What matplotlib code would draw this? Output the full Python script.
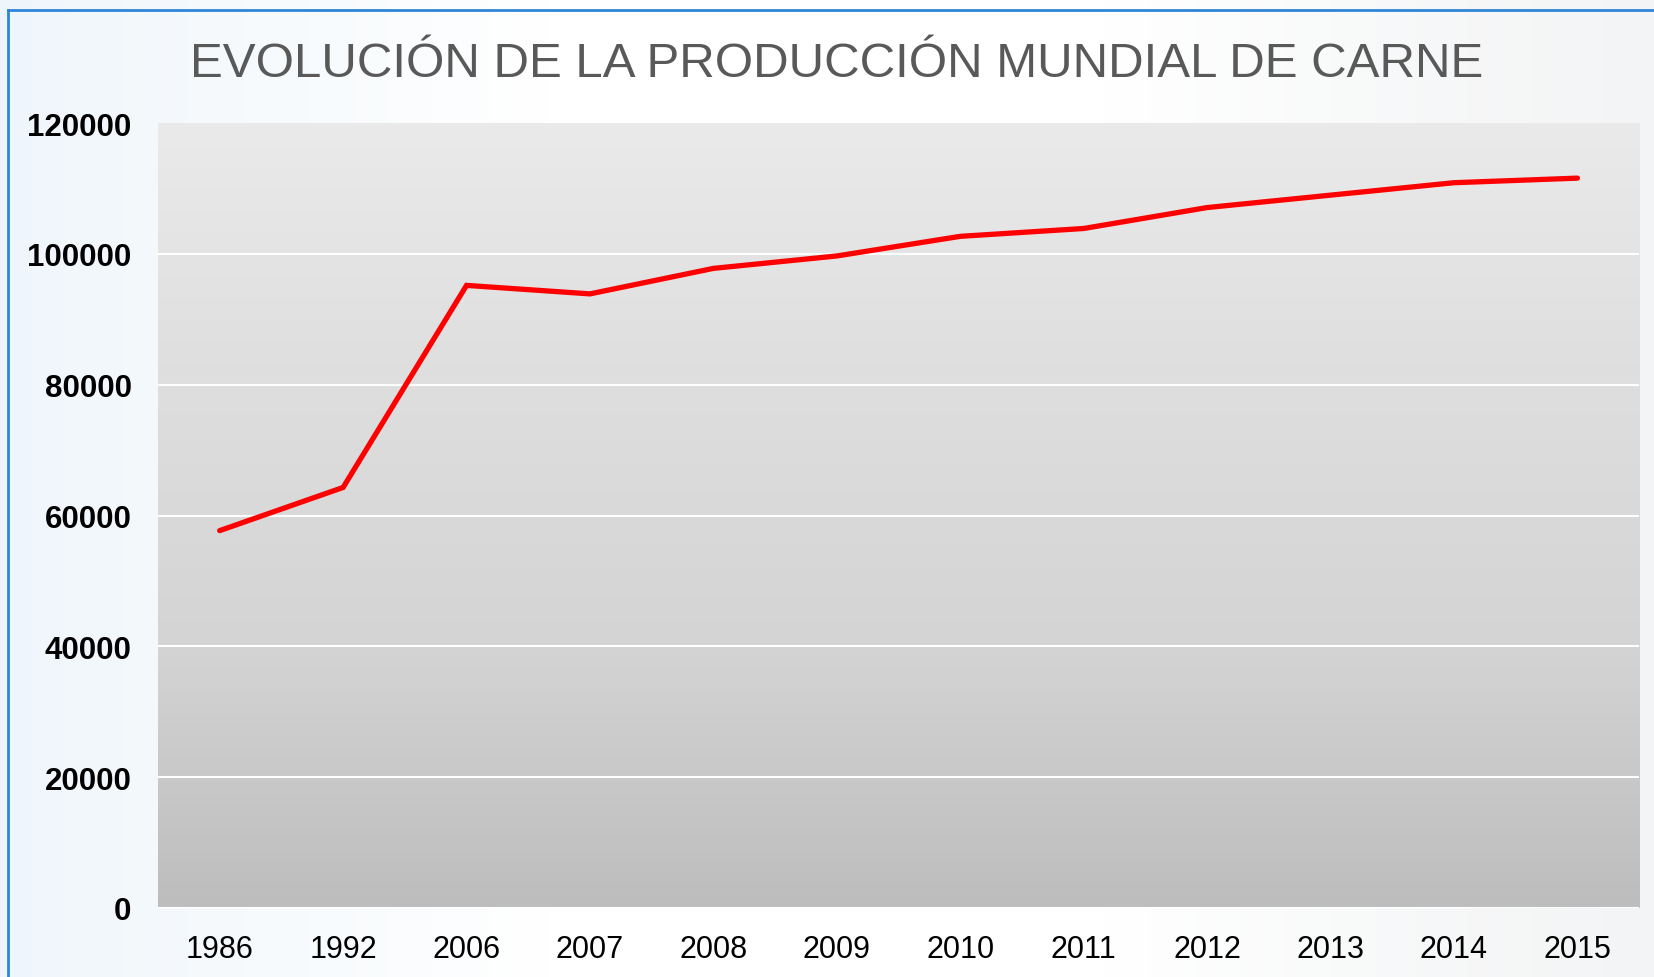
import numpy as np
import matplotlib.pyplot as plt
from matplotlib.colors import LinearSegmentedColormap

years = ["1986", "1992", "2006", "2007", "2008", "2009", "2010", "2011", "2012", "2013", "2014", "2015"]
production = [57700, 64300, 95200, 93900, 97800, 99700, 102700, 103900, 107100, 109000, 110900, 111600]
y_ticks = [0, 20000, 40000, 60000, 80000, 100000, 120000]
title = "EVOLUCIÓN DE LA PRODUCCIÓN MUNDIAL DE CARNE"

plt.rcParams["font.family"] = ["Liberation Sans", "DejaVu Sans"]

fig = plt.figure(figsize=(16.54, 9.78), dpi=100)
fig.patch.set_facecolor("white")

# faint bluish wash behind everything, like the slide background
bg = fig.add_axes([0, 0, 1, 1], zorder=-10)
wash = LinearSegmentedColormap.from_list("wash", ["#eef6fb", "#ffffff", "#ffffff", "#f1f3f4"])
bg.imshow(np.linspace(0, 1, 256).reshape(1, -1), aspect="auto", cmap=wash,
          extent=[0, 1, 0, 1], alpha=0.9)
bg.set_xlim(0, 1)
bg.set_ylim(0, 1)
bg.axis("off")

# blue slide frame (top and left edges)
fig.add_artist(plt.Line2D([0.0046, 1.0], [0.989, 0.989], color="#2f86d6", lw=2))
fig.add_artist(plt.Line2D([0.0046, 0.0046], [0.0, 0.989], color="#2f86d6", lw=2))

ax = fig.add_axes([0.0955, 0.0706, 0.8955, 0.8024])
x = np.arange(len(years))

# grey vertical gradient for plot area
grad = LinearSegmentedColormap.from_list("grad", ["#bdbdbd", "#d4d4d4", "#dedede", "#eaeaea"])
ax.imshow(np.linspace(0, 1, 256).reshape(-1, 1), aspect="auto", cmap=grad, origin="lower",
          extent=[-0.5, len(years) - 0.5, 0, 120000], zorder=0)

for t in y_ticks[:-1]:
    ax.axhline(t, color="white", lw=1.5, zorder=1)

ax.plot(x, production, color="#ff0000", lw=3.8, solid_capstyle="round",
        solid_joinstyle="miter", zorder=3)

ax.set_xlim(-0.5, len(years) - 0.5)
ax.set_ylim(0, 120000)
ax.set_xticks(x)
ax.set_xticklabels(years, fontsize=22)
ax.set_yticks(y_ticks)
ax.set_yticklabels([str(t) for t in y_ticks], fontsize=22.5, fontweight="bold")
ax.tick_params(axis="both", length=0, colors="black")
ax.tick_params(axis="y", pad=19)
ax.tick_params(axis="x", pad=19)
for s in ax.spines.values():
    s.set_visible(False)

fig.text(0.506, 0.921, title, ha="center", va="baseline", fontsize=35.5, color="#595959")

fig.savefig("out.png", dpi=100)
